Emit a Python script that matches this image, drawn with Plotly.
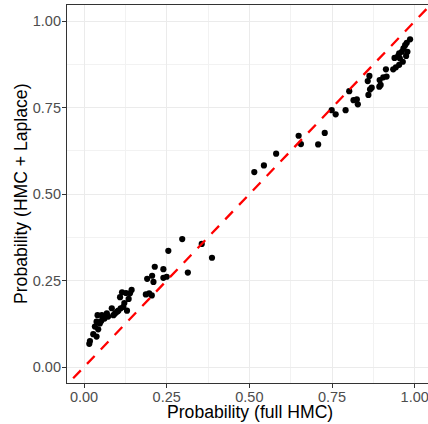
import plotly.graph_objects as go

# Probability estimates: full HMC (x) vs HMC + Laplace (y)
prob_full_hmc = [
    0.016, 0.018, 0.028, 0.038, 0.033, 0.043, 0.048, 0.038, 0.041, 0.054,
    0.057, 0.069, 0.073, 0.084, 0.094, 0.089, 0.111, 0.119, 0.130, 0.109,
    0.115, 0.127, 0.135, 0.139, 0.144, 0.052, 0.062, 0.100, 0.122, 0.104,
    0.187, 0.197, 0.205, 0.191, 0.206, 0.210, 0.214, 0.240, 0.250, 0.240,
    0.255, 0.297, 0.356, 0.387, 0.314,
    0.515, 0.544, 0.581, 0.649, 0.656, 0.708, 0.728, 0.749, 0.761, 0.791,
    0.802, 0.815, 0.825, 0.828, 0.860, 0.865, 0.870, 0.858, 0.863, 0.893,
    0.897, 0.894, 0.905, 0.915, 0.913, 0.935, 0.943, 0.953, 0.939, 0.955,
    0.953, 0.961, 0.974, 0.966, 0.971, 0.976, 0.986, 0.978, 0.964, 0.950,
]
prob_hmc_laplace = [
    0.067, 0.075, 0.095, 0.088, 0.117, 0.109, 0.126, 0.131, 0.150, 0.150,
    0.144, 0.155, 0.146, 0.170, 0.155, 0.150, 0.170, 0.174, 0.163, 0.202,
    0.216, 0.214, 0.197, 0.213, 0.223, 0.133, 0.140, 0.160, 0.185, 0.163,
    0.210, 0.213, 0.207, 0.255, 0.264, 0.246, 0.290, 0.283, 0.261, 0.258,
    0.336, 0.370, 0.356, 0.316, 0.273,
    0.564, 0.583, 0.617, 0.669, 0.645, 0.644, 0.677, 0.743, 0.731, 0.743,
    0.798, 0.772, 0.774, 0.760, 0.787, 0.803, 0.808, 0.827, 0.842, 0.811,
    0.816, 0.830, 0.838, 0.840, 0.861, 0.861, 0.867, 0.874, 0.894, 0.893,
    0.907, 0.912, 0.900, 0.922, 0.931, 0.938, 0.948, 0.912, 0.883, 0.900,
]
identity_line = [-0.2, 1.2]
tick_vals = [0.0, 0.25, 0.5, 0.75, 1.0]
tick_text = ["0.00", "0.25", "0.50", "0.75", "1.00"]

fig = go.Figure()
fig.add_trace(go.Scatter(
    x=prob_full_hmc, y=prob_hmc_laplace, mode="markers",
    marker=dict(color="black", size=6.2, line=dict(width=0)),
    showlegend=False, hoverinfo="skip",
))
fig.add_trace(go.Scatter(
    x=identity_line, y=identity_line, mode="lines",
    line=dict(color="#FF0000", width=2.3, dash="11px,9px"),
    showlegend=False, hoverinfo="skip",
))

axis_common = dict(
    tickvals=tick_vals, ticktext=tick_text,
    automargin=False, ticklabeloverflow="allow",
    showgrid=True, gridcolor="#EBEBEB", gridwidth=1.3,
    minor=dict(tickvals=[0.125, 0.375, 0.625, 0.875], showgrid=True,
               gridcolor="#F2F2F2", gridwidth=0.8, ticks=""),
    zeroline=False, showline=True, linecolor="#333333", linewidth=1.2,
    ticks="outside", ticklen=4, tickwidth=1.1, tickcolor="#333333",
    tickfont=dict(family="Liberation Sans, Arial, sans-serif", size=14.5, color="#4D4D4D"),
)

fig.update_layout(
    width=428, height=424,
    margin=dict(l=67, r=0, t=5, b=41, autoexpand=False),
    paper_bgcolor="white", plot_bgcolor="white",
    xaxis=dict(range=[-0.0514, 1.0402], mirror=True, ticklabelstandoff=-4, **axis_common),
    yaxis=dict(range=[-0.0463, 1.0472], ticklabelstandoff=-2, **axis_common),
    annotations=[
        dict(text="Probability (full HMC)", xref="paper", yref="paper",
             x=(250 - 67) / 361, y=-(411.5 - 383) / 378, xanchor="center", yanchor="middle",
             showarrow=False,
             font=dict(family="Liberation Sans, Arial, sans-serif", size=17.6, color="black")),
        dict(text="Probability (HMC + Laplace)", xref="paper", yref="paper",
             x=-(67 - 20.5) / 361, y=(383 - 193.5) / 378, xanchor="center", yanchor="middle",
             textangle=-90, showarrow=False,
             font=dict(family="Liberation Sans, Arial, sans-serif", size=17.6, color="black")),
    ],
)

fig.write_html(
    "out.html",
    config={"displayModeBar": False},
    post_script="document.body.style.margin='0';document.body.style.padding='0';",
)
